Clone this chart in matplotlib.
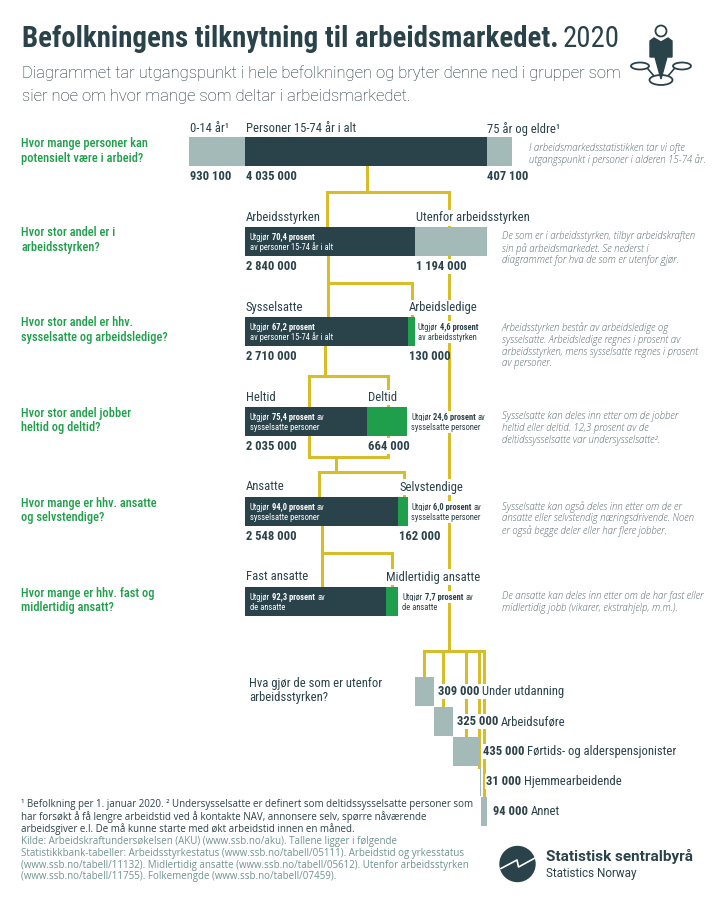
import matplotlib
matplotlib.use("Agg")
import matplotlib.pyplot as plt
from matplotlib import font_manager as fm
from matplotlib.patches import Circle, Ellipse, Polygon

# ---------- data ----------
top_labels = ["0-14 år¹", "Personer 15-74 år i alt", "75 år og eldre¹"]
top_values = [930100, 4035000, 407100]
force_labels = ["Arbeidsstyrken", "Utenfor arbeidsstyrken"]
force_values = [2840000, 1194000]
employ_labels = ["Sysselsatte", "Arbeidsledige"]
employ_values = [2710000, 130000]
hours_labels = ["Heltid", "Deltid"]
hours_values = [2035000, 664000]
status_labels = ["Ansatte", "Selvstendige"]
status_values = [2548000, 162000]
contract_labels = ["Fast ansatte", "Midlertidig ansatte"]
contract_values = [2352000, 196000]
outside_labels = ["Under utdanning", "Arbeidsuføre", "Førtids- og alderspensjonister",
                  "Hjemmearbeidende", "Annet"]
outside_values = [309000, 325000, 435000, 31000, 94000]

DARK, LIGHT, GREEN = "#2a4249", "#a3bab8", "#1f9f4b"
GOLD, NOTE, SRC = "#d8bd2b", "#5c6e71", "#6f9490"

avail = {f.name for f in fm.fontManager.ttflist}
def pick(*names):
    for n in names:
        if n in avail:
            return n
    return "DejaVu Sans"
COND = pick("Roboto Condensed", "Liberation Sans Narrow", "Roboto")
OPEN = pick("Open Sans", "Noto Sans")

fig = plt.figure(figsize=(7.19, 8.98), dpi=100, facecolor="white")
def layer(xlim):
    a = fig.add_axes([0, 0, 1, 1])
    a.set_xlim(*xlim)
    a.set_ylim(898, 0)
    a.axis("off")
    a.patch.set_alpha(0)
    return a
ax = layer((0, 719))                      # connectors, pixel layout
SCALE = 6e-5                              # pixels per person
X0 = 245
axb = layer((-X0 / SCALE, (719 - X0) / SCALE))   # bars, x in persons
axt = layer((0, 719))                     # text
rend = fig.canvas.get_renderer()

def conn(*pts):
    xs, ys = zip(*pts)
    ax.plot(xs, ys, color=GOLD, lw=2.2, solid_capstyle="projecting", solid_joinstyle="miter")

conn((449, 192), (449, 650.5))
conn((367, 165), (367, 192))
conn((327, 227), (327, 192), (449, 192))
conn((328, 256), (328, 283), (412, 283), (412, 316))
conn((328, 283), (328, 317))
conn((325, 346), (325, 375.5))
conn((309, 407), (309, 375.5), (388, 375.5), (388, 407))
conn((309, 436), (309, 457), (388, 457), (388, 436))
conn((336, 457), (336, 471.5))
conn((319, 497), (319, 471.5), (404, 471.5), (404, 497))
conn((321.5, 526), (321.5, 552.5), (391.5, 552.5), (391.5, 587))
conn((321.5, 552.5), (321.5, 587))
conn((424, 676), (424, 650.5), (484, 650.5), (484, 796))
conn((443, 650.5), (443, 707))
conn((466, 650.5), (466, 737))
conn((479, 650.5), (479, 767))

def stack(y, values, colors, start=0, h=29):
    left = start
    for v, c in zip(values, colors):
        axb.barh(y, v, left=left, height=h, color=c, edgecolor="none", align="edge", zorder=3)
        left += v

stack(136.5, top_values, [LIGHT, DARK, LIGHT], start=-top_values[0])
stack(227, force_values, [DARK, LIGHT])
stack(317, employ_values, [DARK, GREEN])
stack(407, hours_values, [DARK, GREEN])
stack(497, status_values, [DARK, GREEN])
stack(587, contract_values, [DARK, GREEN])
left = force_values[0]
out_y = [676.5, 706.5, 736.5, 766.5, 796.5]
for v, y in zip(outside_values, out_y):
    axb.barh(y, v, left=left, height=29, color=LIGHT, edgecolor="none", align="edge", zorder=3)
    left += v

WB = dict(facecolor="white", edgecolor="none", pad=1.0)
def T(x, y, s, size=9.1, weight="normal", color=DARK, fam=None, bg=True, style="normal"):
    return axt.text(x, y, s, fontsize=size, fontweight=weight, color=color,
                    family=fam or COND, va="center", ha="left", style=style,
                    bbox=WB if bg else None)

def fmt(v):
    return f"{v:,}".replace(",", " ")

def label_row(xs, ylab, yval, labels, values, show=True, value_bg=True):
    for x, lab, v in zip(xs, labels, values):
        T(x, ylab, lab)
        if show:
            T(x, yval, fmt(v), weight="bold", bg=value_bg)

label_row([190, 246, 487], 129, 176, top_labels, top_values)
label_row([246, 416], 218, 266.5, force_labels, force_values)
label_row([246, 409], 307.5, 356, employ_labels, employ_values, value_bg=False)
label_row([246, 368], 397.5, 446, hours_labels, hours_values)
label_row([246, 399], 487, 536, status_labels, status_values)
label_row([246, 386], 577, 0, contract_labels, contract_values, show=False)

def rich(x, y, segs, color="white", size=6.15, bg=False):
    for s, w in segs:
        t = T(x, y, s, size=size, weight=w, color=color, bg=bg)
        x += t.get_window_extent(rend).width + size * 0.33

def sh(before, bold, after=""):
    return [(before, "normal"), (bold, "bold")] + ([(after, "normal")] if after else [])

rich(250, 237, sh("Utgjør", "70,4 prosent"))
rich(250, 247.5, [("av personer 15-74 år i alt", "normal")])
rich(250, 327, sh("Utgjør", "67,2 prosent"))
rich(250, 337.5, [("av personer 15-74 år i alt", "normal")])
rich(418, 327, sh("Utgjør", "4,6 prosent"), color=DARK, bg=True)
rich(418, 337.5, [("av arbeidsstyrken", "normal")], color=DARK, bg=True)
rich(250, 417, sh("Utgjør", "75,4 prosent", "av"))
rich(250, 427, [("sysselsatte personer", "normal")])
rich(411, 417, sh("Utgjør", "24,6 prosent", "av"), color=DARK, bg=True)
rich(411, 427, [("sysselsatte personer", "normal")], color=DARK, bg=True)
rich(250, 507, sh("Utgjør", "94,0 prosent", "av"))
rich(250, 517, [("sysselsatte personer", "normal")])
rich(411, 507, sh("Utgjør", "6,0 prosent", "av"), color=DARK, bg=True)
rich(411, 517, [("sysselsatte personer", "normal")], color=DARK, bg=True)
rich(250, 597, sh("Utgjør", "92,3 prosent", "av"))
rich(250, 607, [("de ansatte", "normal")])
rich(402.5, 597, sh("Utgjør", "7,7 prosent", "av"), color=DARK, bg=True)
rich(402.5, 607, [("de ansatte", "normal")], color=DARK, bg=True)

questions = [(144, "Hvor mange personer kan"), (158.5, "potensielt være i arbeid?"),
             (233, "Hvor stor andel er i"), (247.5, "arbeidsstyrken?"),
             (323, "Hvor stor andel er hhv."), (338, "sysselsatte og arbeidsledige?"),
             (413, "Hvor stor andel jobber"), (428, "heltid og deltid?"),
             (503, "Hvor mange er hhv. ansatte"), (517.5, "og selvstendige?"),
             (593, "Hvor mange er hhv. fast og"), (607.5, "midlertidig ansatt?")]
for y, s in questions:
    T(21, y, s, size=8.9, weight="medium", color=GREEN, bg=False)

notes = [(529, 148, "I arbeidsmarkedsstatistikken tar vi ofte"),
         (529, 160, "utgangspunkt i personer i alderen 15-74 år."),
         (502, 237, "De som er i arbeidsstyrken, tilbyr arbeidskraften"),
         (502, 249, "sin på arbeidsmarkedet. Se nederst i"),
         (502, 261, "diagrammet for hva de som er utenfor gjør."),
         (502, 328, "Arbeidsstyrken består av arbeidsledige og"),
         (502, 340, "sysselsatte. Arbeidsledige regnes i prosent av"),
         (502, 352, "arbeidsstyrken, mens sysselsatte regnes i prosent"),
         (502, 363.5, "av personer."),
         (502, 417, "Sysselsatte kan deles inn etter om de jobber"),
         (502, 429, "heltid eller deltid. 12,3 prosent av de"),
         (502, 441, "deltidssysselsatte var undersysselsatte²."),
         (502, 507, "Sysselsatte kan også deles inn etter om de er"),
         (502, 519, "ansatte eller selvstendig næringsdrivende. Noen"),
         (502, 531, "er også begge deler eller har flere jobber."),
         (502, 597, "De ansatte kan deles inn etter om de har fast eller"),
         (502, 609, "midlertidig jobb (vikarer, ekstrahjelp, m.m.).")]
for x, y, s in notes:
    T(x, y, s, size=6.95, color=NOTE, fam=OPEN, bg=False, style="italic", weight="light")

T(249, 683, "Hva gjør de som er utenfor", bg=False)
T(249, 698, "arbeidsstyrken?", bg=False)

val_x = [438, 457, 483, 486, 493]
lab_x = [482, 501, 527, 524, 531]
for v, lab, y, xv, xl in zip(outside_values, outside_labels, out_y, val_x, lab_x):
    T(xv, y + 15, fmt(v), weight="bold")
    T(xl, y + 15, lab)

# title
T(22, 39, "Befolkningens tilknytning til arbeidsmarkedet.", size=20.73, weight="bold", bg=False)
T(563, 39, "2020", size=20.73, bg=False)
T(22, 73, "Diagrammet tar utgangspunkt i hele befolkningen og bryter denne ned i grupper som", size=11.85, fam="Roboto", weight="light", color="#12282e", bg=False)
T(22, 96, "sier noe om hvor mange som deltar i arbeidsmarkedet.", size=11.85, fam="Roboto", weight="light", color="#12282e", bg=False)

# footer
foot = [(805, "¹ Befolkning per 1. januar 2020. ² Undersysselsatte er definert som deltidssysselsatte personer som", DARK),
        (817, "har forsøkt å få lengre arbeidstid ved å kontakte NAV, annonsere selv, spørre nåværende", DARK),
        (829, "arbeidsgiver e.l. De må kunne starte med økt arbeidstid innen en måned.", DARK),
        (841.5, "Kilde: Arbeidskraftundersøkelsen (AKU) (www.ssb.no/aku). Tallene ligger i følgende", SRC),
        (853.5, "Statistikkbank-tabeller: Arbeidsstyrkestatus (www.ssb.no/tabell/05111). Arbeidstid og yrkesstatus", SRC),
        (865.5, "(www.ssb.no/tabell/11132). Midlertidig ansatte (www.ssb.no/tabell/05612). Utenfor arbeidsstyrken", SRC),
        (877, "(www.ssb.no/tabell/11755). Folkemengde (www.ssb.no/tabell/07459).", SRC)]
for y, s, c in foot:
    T(21, y, s, size=7.0, color=c, fam=OPEN, bg=False)

# logo
ax.add_patch(Circle((517.5, 864), 17.5, color=DARK, zorder=5))
ax.plot([501, 517, 518.5, 535], [868.5, 860, 867, 858], color="white", lw=1.2, zorder=6)
T(546, 857, "Statistisk sentralbyrå", size=11, weight="bold", fam="Roboto", bg=False)
T(546, 874, "Statistics Norway", size=8.4, fam="Roboto", bg=False)

# icon
ax.add_patch(Ellipse((640, 66), 18, 7, fc="white", ec=DARK, lw=1.3, zorder=5))
ax.add_patch(Ellipse((682, 66), 18, 7, fc="white", ec=DARK, lw=1.3, zorder=5))
ax.add_patch(Ellipse((661, 80), 23, 10, fc="white", ec=DARK, lw=1.3, zorder=5))
ax.plot([648, 654], [69, 76], color=DARK, lw=1.2, zorder=4)
ax.plot([674, 668], [69, 76], color=DARK, lw=1.2, zorder=4)
ax.add_patch(Circle((661, 31), 5.5, fc="white", ec=DARK, lw=1.3, zorder=5))
ax.add_patch(Polygon([(654, 38), (661, 42), (668, 38), (672, 41), (672, 57), (667, 57),
                      (661, 79), (655, 57), (650, 57), (650, 41)], color=DARK, zorder=6))

fig.savefig("out.png", dpi=100, facecolor="white")
